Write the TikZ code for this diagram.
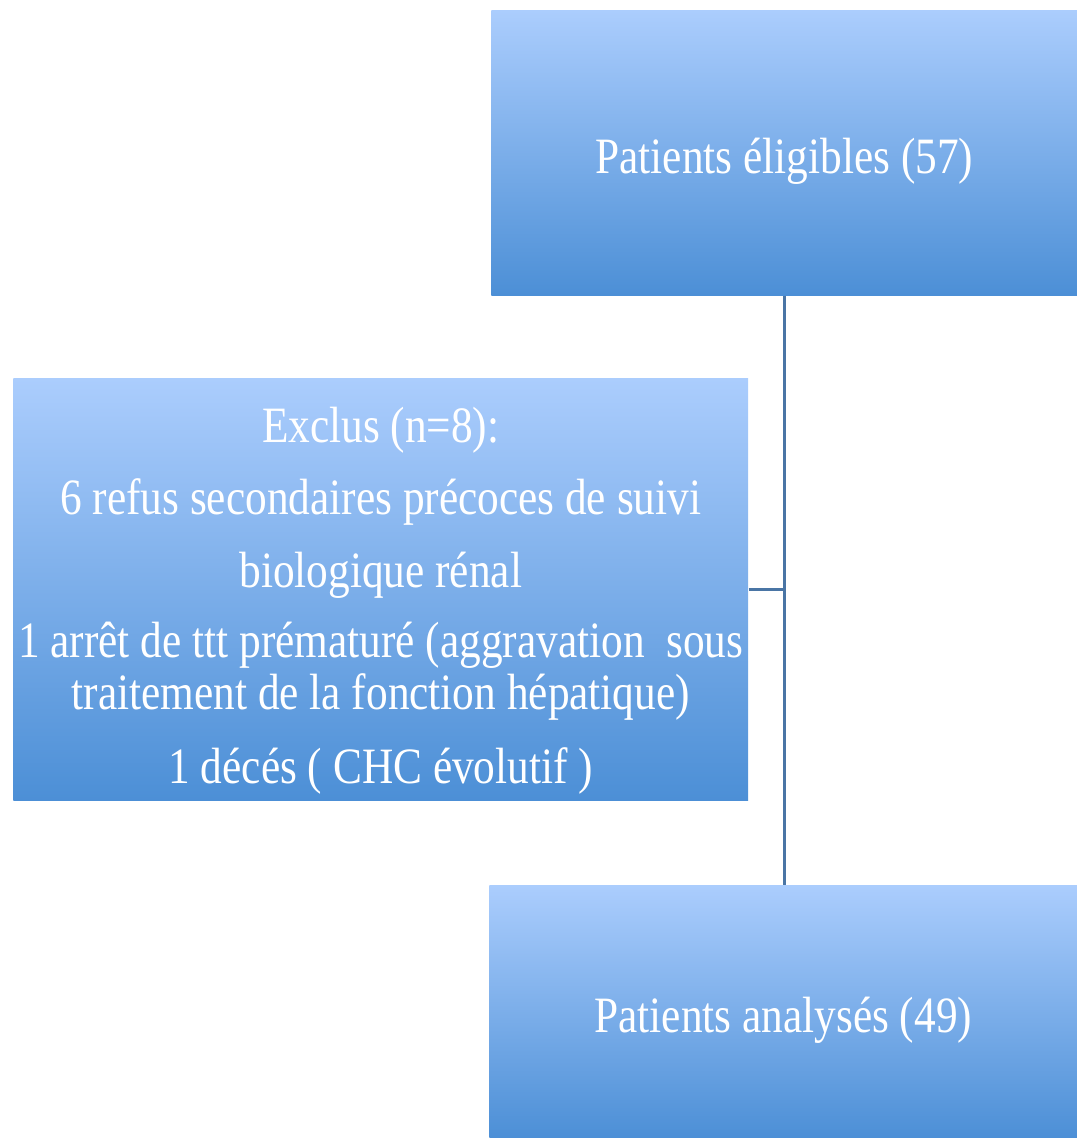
\documentclass[tikz,border=0pt]{standalone}
\usepackage{fontspec}
\setmainfont[FakeStretch=0.85]{Liberation Serif}
\usepackage{xcolor}
\usetikzlibrary{positioning}
\definecolor{boxtop}{HTML}{ABCDFD}
\definecolor{boxbottom}{HTML}{4C8FD6}
\definecolor{linkcol}{HTML}{4A75A5}
\tikzset{
  flowbox/.style={
    rectangle,
    inner sep=0pt,
    align=center,
    top color=boxtop,
    bottom color=boxbottom,
    text=white,
    font=\fontsize{29}{29.5}\selectfont
  },
  link/.style={draw=linkcol, line width=1.6pt}
}

\begin{document}
\begin{tikzpicture}[x=0.02cm, y=-0.02cm]
  \useasboundingbox (0,0) rectangle (1077,1138);
  \node[flowbox, anchor=north west, minimum width=11.72cm, minimum height=5.7cm]
    (eligible) at (491,10) {\rule{0pt}{30pt}Patients éligibles (57)};
  \node[flowbox, anchor=north west, minimum width=14.7cm, minimum height=8.44cm]
    (excluded) at (13,378) {\rule{0pt}{33pt}Exclus (n=8):\\[12pt]
    6 refus secondaires précoces de suivi\\[12pt]
    biologique rénal\\[10pt]
    1 arrêt de ttt prématuré (aggravation~~sous\\
    traitement de la fonction hépatique)\\[13pt]
    1 décés ( CHC évolutif )};
  \node[flowbox, anchor=north west, minimum width=11.76cm, minimum height=5.06cm]
    (analysed) at (489,885) {\rule{0pt}{30pt}Patients analysés (49)};

  \draw[link] (eligible.south) -- (analysed.north -| eligible.south);
  \draw[link] (excluded.east) -- (excluded.east -| eligible.south);
\end{tikzpicture}
\end{document}
